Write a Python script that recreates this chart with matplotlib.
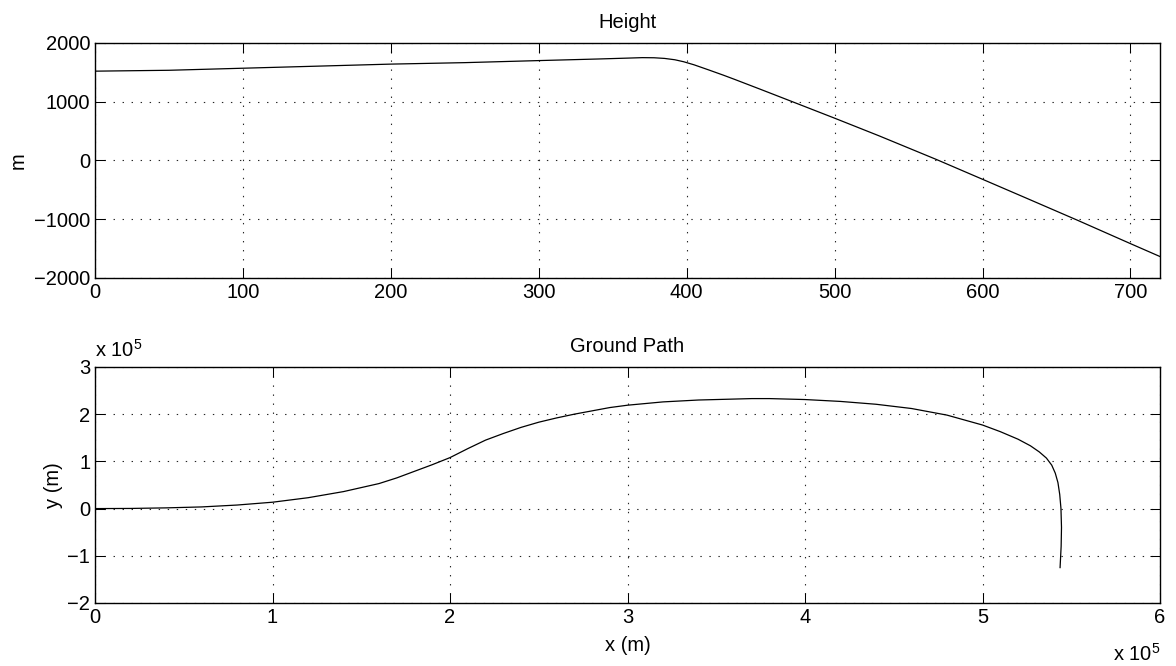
import matplotlib
matplotlib.use('Agg')
import matplotlib.pyplot as plt
from matplotlib.ticker import FuncFormatter

plt.rcParams['font.family'] = ['Liberation Sans', 'DejaVu Sans']
plt.rcParams['font.size'] = 14.5
plt.rcParams['mathtext.default'] = 'regular'
plt.rcParams['lines.scale_dashes'] = False

# height vs time
t = [0, 50, 100, 150, 200, 250, 300, 340, 360, 370, 378, 385, 392, 398,
     405, 415, 425, 432, 450, 468, 500, 530, 569, 600, 630, 664, 700, 720]
h = [1520, 1535, 1570, 1605, 1640, 1665, 1700, 1727, 1742, 1750, 1748,
     1737, 1714, 1680, 1628, 1540, 1450, 1384, 1210, 1034, 720, 420, 15,
     -320, -645, -1015, -1415, -1635]

# ground track, in units of 1e5 m
gx = [0, 0.2, 0.4, 0.6, 0.8, 1.0, 1.2, 1.4, 1.6, 1.7, 1.8, 1.9, 2.0, 2.1,
      2.2, 2.3, 2.4, 2.5, 2.6, 2.7, 2.8, 2.9, 3.0, 3.2, 3.4, 3.6, 3.7, 3.8,
      4.0, 4.2, 4.4, 4.6, 4.8, 5.0, 5.1, 5.2, 5.27, 5.32, 5.36, 5.39, 5.41,
      5.425, 5.435, 5.442, 5.445, 5.443, 5.437]
gy = [0, 0.003, 0.015, 0.035, 0.075, 0.135, 0.23, 0.36, 0.53, 0.65, 0.79,
      0.93, 1.08, 1.27, 1.45, 1.59, 1.72, 1.83, 1.92, 2.0, 2.07, 2.14, 2.19,
      2.26, 2.30, 2.32, 2.33, 2.33, 2.31, 2.27, 2.21, 2.12, 1.98, 1.77, 1.63,
      1.47, 1.33, 1.20, 1.07, 0.92, 0.75, 0.55, 0.30, 0.0, -0.4, -0.8, -1.25]
gx = [v * 1e5 for v in gx]
gy = [v * 1e5 for v in gy]

height_xticks = [0, 100, 200, 300, 400, 500, 600, 700]
height_yticks = [-2000, -1000, 0, 1000, 2000]
path_xticks = [0, 1e5, 2e5, 3e5, 4e5, 5e5, 6e5]
path_yticks = [-2e5, -1e5, 0, 1e5, 2e5, 3e5]

fig = plt.figure(figsize=(11.76, 6.66), dpi=100)
ax1 = fig.add_axes([0.0808, 0.5826, 0.9056, 0.3529])
ax2 = fig.add_axes([0.0808, 0.0946, 0.9056, 0.3544])


def style(ax):
    ax.grid(True, color='0.15', linestyle=(0, (1.0, 5.5)), linewidth=0.8)
    ax.tick_params(direction='in', length=7.2, width=0.75, top=True,
                   right=True, pad=3.5, labelsize=14.5)
    for s in ax.spines.values():
        s.set_linewidth(1.0)


ax1.plot(t, h, color='k', linewidth=0.9)
ax1.set_xlim(0, 720)
ax1.set_ylim(-2000, 2000)
ax1.set_xticks(height_xticks)
ax1.set_yticks(height_yticks)
ax1.set_title('Height', fontsize=14.5, pad=11)
ax1.set_ylabel('m', va='center', ha='center')
ax1.yaxis.set_label_coords(-0.072, 0.5)
style(ax1)

ax2.plot(gx, gy, color='k', linewidth=0.9)
ax2.set_xlim(0, 6e5)
ax2.set_ylim(-2e5, 3e5)
ax2.set_xticks(path_xticks)
ax2.set_yticks(path_yticks)
fmt = FuncFormatter(lambda v, pos: ('%d' % round(v / 1e5)).replace('-', '\u2212'))
ax2.xaxis.set_major_formatter(fmt)
ax2.yaxis.set_major_formatter(fmt)
ax2.set_title('Ground Path', fontsize=14.5, pad=11)
ax2.set_ylabel('y (m)', va='center', ha='center')
ax2.yaxis.set_label_coords(-0.039, 0.5)
ax2.set_xlabel('x (m)', va='center', ha='center')
ax2.xaxis.set_label_coords(0.5, -0.18)
ax2.text(0.0, 1.042, 'x 10$^{5}$', transform=ax2.transAxes,
         ha='left', va='baseline', fontsize=14.5)
ax2.text(1.0, -0.246, 'x 10$^{5}$', transform=ax2.transAxes,
         ha='right', va='baseline', fontsize=14.5)
style(ax2)

fig.savefig('out.png', dpi=100)
